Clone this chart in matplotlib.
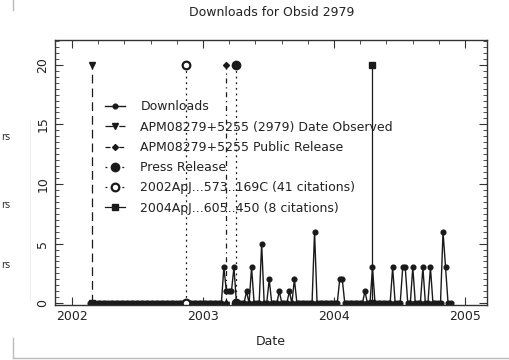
import numpy as np
import matplotlib
matplotlib.use('Agg')
import matplotlib.pyplot as plt
from matplotlib.ticker import MultipleLocator
from matplotlib.lines import Line2D

plt.rcParams['font.family'] = ['DejaVu Sans']

# weekly download counts, first week starting at 2002.14 (decimal year)
week_start = 2002.14
downloads = [
    0, 0, 0, 0, 0, 0, 0, 0, 0, 0, 0, 0, 0, 0, 0, 0, 0, 0, 0, 0,
    0, 0, 0, 0, 0, 0, 0, 0, 0, 0, 0, 0, 0, 0, 0, 0, 0, 0, 0, 0,
    0, 0, 0, 0, 0, 0, 0, 0, 0, 0, 0, 0, 0, 3, 1, 1, 1, 3, 0, 0,
    0, 0, 1, 0, 3, 0, 0, 0, 5, 0, 0, 2, 0, 0, 0, 1, 0, 0, 0, 1,
    0, 2, 0, 0, 0, 0, 0, 0, 0, 6, 0, 0, 0, 0, 0, 0, 0, 0, 0, 2,
    2, 0, 0, 0, 0, 0, 0, 0, 0, 1, 0, 0, 3, 0, 0, 0, 0, 0, 0, 0,
    3, 0, 0, 0, 3, 3, 0, 0, 3, 0, 0, 0, 3, 0, 0, 3, 0, 0, 0, 0,
    6, 3, 0, 0,
]

# events: label, decimal year
event_labels = ['APM08279+5255 (2979) Date Observed',
                'APM08279+5255 Public Release',
                'Press Release',
                '2002ApJ...573..169C (41 citations)',
                '2004ApJ...605..450 (8 citations)']
event_dates = [2002.153, 2003.175, 2003.25, 2002.87, 2004.29]
event_top = 20

weeks = week_start + np.arange(len(downloads)) / 52.0

fig = plt.figure(figsize=(5.1, 3.6), dpi=100)
ax = fig.add_axes([55/510, 55/360, 432/510, 265/360])

ink = '#1a1a1a'
ax.plot(weeks, downloads, '-', color=ink, lw=1.0, marker='o', ms=3.4,
        label='Downloads')

styles = [
    dict(ls=(0, (7, 4)), marker='v', ms=4, mfc=ink),
    dict(ls=(0, (4, 3, 1, 3)), marker='D', ms=3, mfc=ink),
    dict(ls=(0, (1.5, 3)), marker='o', ms=6, mfc=ink),
    dict(ls=(0, (1.5, 3)), marker='o', ms=5.5, mfc='white', mew=1.6),
    dict(ls='-', marker='s', ms=5, mfc=ink),
]
for lab, d, st in zip(event_labels, event_dates, styles):
    ax.plot([d, d], [0, event_top], color=ink, lw=0.9, mec=ink,
            label=lab, **st)

ax.set_xlim(2001.870, 2005.168)
ax.set_ylim(-0.15, 22.08)
ax.xaxis.set_minor_locator(MultipleLocator(0.2))
ax.yaxis.set_major_locator(MultipleLocator(5))
ax.yaxis.set_minor_locator(MultipleLocator(0.5))
ax.set_xticks([2002, 2003, 2004, 2005])
ax.set_xticklabels(['2002', '2003', '2004', '2005'])
ax.tick_params(which='both', direction='in', top=True, right=True,
               color='#333', labelsize=9, labelcolor='#222')
ax.tick_params(which='major', length=6, width=0.8)
ax.tick_params(which='minor', length=3, width=0.6)
ax.tick_params(axis='y', labelrotation=90, pad=4)
for lbl in ax.get_yticklabels():
    lbl.set_va('center')
for s in ax.spines.values():
    s.set_color('#333')
    s.set_linewidth(1.0)

ax.set_xlabel('Date', fontsize=9, color='#222', labelpad=9)
fig.text(272/510, 1 - 12/360, 'Downloads for Obsid 2979', ha='center',
         va='center', fontsize=9, color='#222')

leg = ax.legend(loc='upper left', bbox_to_anchor=(0.0995, 0.80),
                borderaxespad=0, fontsize=9, frameon=True, fancybox=False,
                framealpha=0, edgecolor='#333', handlelength=1.6,
                handletextpad=1.2, labelspacing=0.58, borderpad=0.6)
leg.get_frame().set_linewidth(1.0)
for t in leg.get_texts():
    t.set_color('#222')

# leftover fragments of the scanned page
for yy in [137, 205, 265]:
    fig.text(10/510, 1 - yy/360, 'rs', ha='right', va='center',
             fontsize=7, color='#333')
gray = '#bbbbbb'
fig.add_artist(Line2D([13/510, 1], [1 - 358/360] * 2, color=gray, lw=1))
fig.add_artist(Line2D([13/510] * 2, [1 - 358/360, 1 - 338/360], color=gray, lw=1))
fig.add_artist(Line2D([13/510] * 2, [1, 1 - 10/360], color=gray, lw=1))
fig.add_artist(Line2D([30/510] * 2, [1 - 120/360, 1 - 300/360], color='#eeeeee', lw=0.8))

fig.savefig('out.png', dpi=100)
